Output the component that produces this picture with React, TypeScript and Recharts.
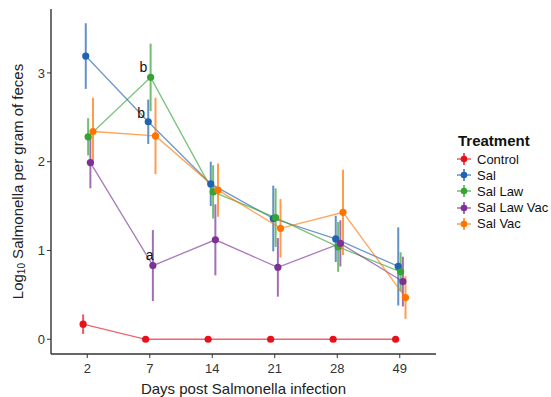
import { ComposedChart, Line, XAxis, YAxis, ErrorBar, ReferenceDot, Label } from "recharts";

// day labels on the x axis (plotted as evenly spaced categories)
const DAYS = ["2", "7", "14", "21", "28", "49"];
const Y_TICKS = [0, 1, 2, 3];

// mean log10 counts and +/- error per day
const CONTROL = [0.17, 0, 0, 0, 0, 0];
const CONTROL_ERR = [0.11, 0, 0, 0, 0, 0];
const SAL = [3.19, 2.45, 1.75, 1.36, 1.13, 0.82];
const SAL_ERR = [0.37, 0.25, 0.25, 0.37, 0.26, 0.44];
const SAL_LAW = [2.28, 2.95, 1.66, 1.37, 1.04, 0.76];
const SAL_LAW_ERR = [0.21, 0.38, 0.3, 0.33, 0.28, 0.22];
const SAL_LAW_VAC = [1.99, 0.83, 1.12, 0.81, 1.08, 0.65];
const SAL_LAW_VAC_ERR = [0.29, 0.4, 0.4, 0.33, 0.26, 0.28];
const SAL_VAC = [2.34, 2.29, 1.68, 1.25, 1.43, 0.47];
const SAL_VAC_ERR = [0.38, 0.43, 0.3, 0.33, 0.48, 0.24];

// significance letters: [text, x position (category units), y value]
const LETTERS: [string, number, number][] = [
  ["b", 0.9, 3.07],
  ["b", 0.864, 2.55],
  ["a", 1.0, 0.95],
];

const SERIES = [
  { name: "Control", mean: CONTROL, err: CONTROL_ERR, color: "#E8111B", dodge: -0.066 },
  { name: "Sal", mean: SAL, err: SAL_ERR, color: "#2063AE", dodge: -0.024 },
  { name: "Sal Law", mean: SAL_LAW, err: SAL_LAW_ERR, color: "#35A335", dodge: 0.014 },
  { name: "Sal Law Vac", mean: SAL_LAW_VAC, err: SAL_LAW_VAC_ERR, color: "#7B3294", dodge: 0.05 },
  { name: "Sal Vac", mean: SAL_VAC, err: SAL_VAC_ERR, color: "#FF7400", dodge: 0.092 },
];

const FONT = "'Liberation Sans', Arial, sans-serif";

function YTitle(props: any) {
  const vb = props.viewBox || { x: 0, y: 9, width: 51, height: 345 };
  const cx = vb.x + 17;
  const cy = vb.y + vb.height / 2;
  return (
    <text
      x={cx}
      y={cy}
      transform={`rotate(-90, ${cx}, ${cy})`}
      textAnchor="middle"
      dominantBaseline="central"
      fontSize={15}
      fill="#222"
      fontFamily={FONT}
    >
      <tspan>Log</tspan>
      <tspan fontSize={10} dy={4}>10</tspan>
      <tspan dy={-4}> Salmonella per gram of feces</tspan>
    </text>
  );
}

function LegendKey({ color }: { color: string }) {
  return (
    <svg width={16} height={14} style={{ display: "block" }}>
      <line x1={1} x2={15} y1={7} y2={7} stroke={color} strokeOpacity={0.7} strokeWidth={1.5} />
      <line x1={8} x2={8} y1={1} y2={13} stroke={color} strokeOpacity={0.7} strokeWidth={2} />
      <circle cx={8} cy={7} r={3.3} fill={color} />
    </svg>
  );
}

export default function App() {
  return (
    <div style={{ position: "absolute", left: 0, top: 0, width: 551, height: 397, background: "#fff", fontFamily: FONT }}>
      <ComposedChart width={551} height={397} margin={{ top: 9, right: 115, bottom: 0, left: 0 }}>
        <XAxis
          type="number"
          dataKey="x"
          domain={[-0.58, 5.58]}
          ticks={[0, 1, 2, 3, 4, 5]}
          tickFormatter={(i: number) => DAYS[i]}
          allowDataOverflow
          height={43}
          axisLine={{ stroke: "#333", strokeWidth: 1.4 }}
          tickLine={{ stroke: "#333" }}
          tickSize={4}
          tickMargin={6}
          tick={{ fontSize: 13, fill: "#333", fontFamily: FONT }}
        >
          <Label value="Days post Salmonella infection" position="insideBottom" offset={3} fontSize={15} fill="#222" fontFamily={FONT} />
        </XAxis>
        <YAxis
          type="number"
          domain={[-0.166, 3.72]}
          ticks={Y_TICKS}
          allowDataOverflow
          width={51}
          axisLine={{ stroke: "#333", strokeWidth: 1.4 }}
          tickLine={{ stroke: "#333" }}
          tickSize={4}
          tick={{ fontSize: 13, fill: "#333", fontFamily: FONT }}
        >
          <Label content={YTitle} />
        </YAxis>
        {SERIES.map((s) => (
          <Line
            key={s.name}
            name={s.name}
            data={s.mean.map((v, i) => ({ x: i + s.dodge, y: v, err: s.err[i] }))}
            dataKey="y"
            stroke={s.color}
            strokeOpacity={0.65}
            strokeWidth={1.3}
            dot={{ r: 3.6, fill: s.color, stroke: "none", strokeOpacity: 0 }}
            activeDot={false}
            isAnimationActive={false}
          >
            <ErrorBar dataKey="err" direction="y" width={0} stroke={s.color} strokeWidth={2} strokeOpacity={0.7} />
          </Line>
        ))}
        {LETTERS.map(([t, x, y], i) => (
          <ReferenceDot
            key={i}
            x={x}
            y={y}
            r={0}
            ifOverflow="visible"
            stroke="none"
            label={{ value: t, position: "center", fontSize: 14, fill: "#111", fontFamily: FONT }}
          />
        ))}
      </ComposedChart>
      <div style={{ position: "absolute", left: 458, top: 131, fontSize: 15, fontWeight: "bold", color: "#111", lineHeight: "20px" }}>
        Treatment
      </div>
      {SERIES.map((s, i) => (
        <div
          key={s.name}
          style={{ position: "absolute", left: 456, top: 151 + i * 16.2, height: 16, display: "flex", alignItems: "center", fontSize: 13, color: "#111" }}
        >
          <LegendKey color={s.color} />
          <span style={{ marginLeft: 5 }}>{s.name}</span>
        </div>
      ))}
    </div>
  );
}
